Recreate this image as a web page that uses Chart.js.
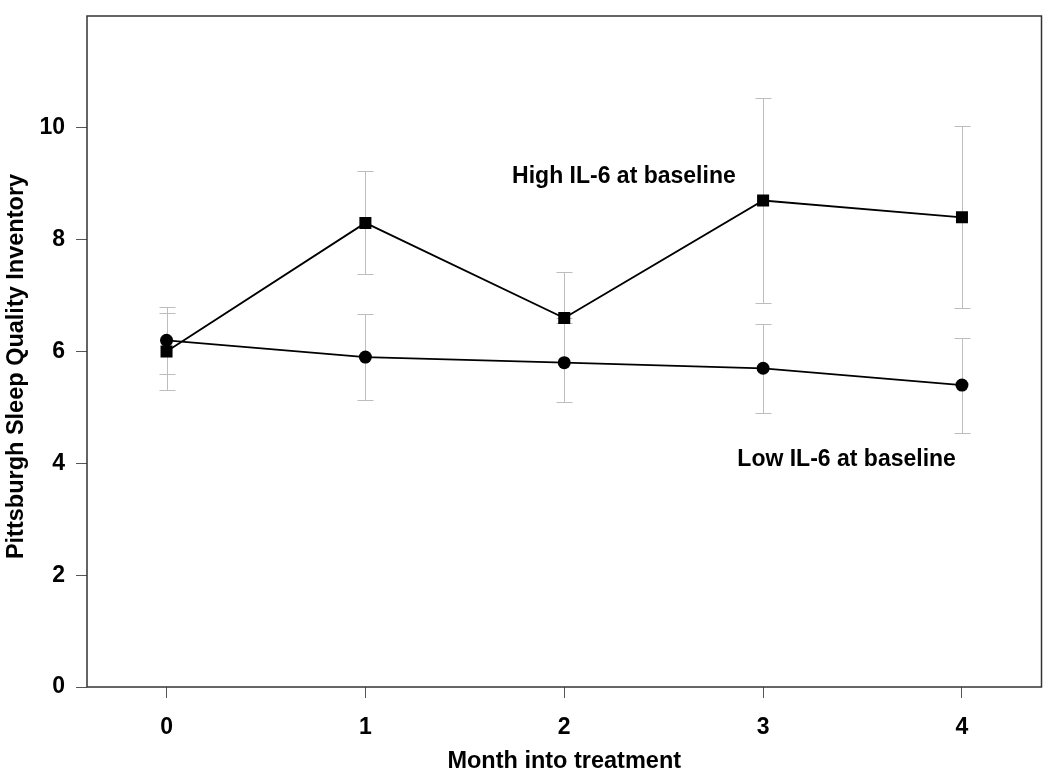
<!DOCTYPE html>
<html>
<head>
<meta charset="utf-8">
<script src="https://cdn.jsdelivr.net/npm/chart.js@4.4.1/dist/chart.umd.min.js"></script>
<style>
  html, body { margin: 0; padding: 0; background: #fff; }
  #wrap { width: 1050px; height: 777px; }
</style>
</head>
<body>
<div id="wrap"><canvas id="chart" width="1050" height="777"></canvas></div>
<script>
// data
const months = [0, 1, 2, 3, 4];
const highMean = [6.0, 8.3, 6.6, 8.7, 8.4];
const highErrUp = [0.68, 0.92, 0.82, 1.83, 1.63];
const highErrDown = [0.69, 0.92, 0, 1.84, 1.63];
const lowMean = [6.2, 5.9, 5.8, 5.7, 5.4];
const lowErr = [0.6, 0.77, 0.71, 0.8, 0.85];
const yTicks = [0, 2, 4, 6, 8, 10];

// text labels placed in data units
const notes = [
    { text: 'High IL-6 at baseline', x: 2.30, y: 9.12 },
    { text: 'Low IL-6 at baseline', x: 3.42, y: 4.06 }
];
const yTitle = 'Pittsburgh Sleep Quality Inventory';

const FONT = "'Liberation Sans', Arial, sans-serif";

// error bars, frame and text labels
const extras = {
    id: 'extras',
    beforeDatasetsDraw(chart) {
        const ctx = chart.ctx;
        const xs = chart.scales.x, ys = chart.scales.y;
        const bars = [];
        months.forEach((m, i) => {
            bars.push([m, highMean[i] + highErrUp[i], highMean[i] - highErrDown[i]]);
            bars.push([m, lowMean[i] + lowErr[i], lowMean[i] - lowErr[i]]);
        });
        ctx.save();
        ctx.strokeStyle = '#bdbdbd';
        ctx.lineWidth = 1;
        bars.forEach(([m, hi, lo]) => {
            const px = Math.round(xs.getPixelForValue(m)) + 0.5;
            const y1 = Math.round(ys.getPixelForValue(hi)) + 0.5;
            const y2 = Math.round(ys.getPixelForValue(lo)) + 0.5;
            ctx.beginPath();
            ctx.moveTo(px, y1); ctx.lineTo(px, y2);
            ctx.moveTo(px - 8, y1); ctx.lineTo(px + 8, y1);
            ctx.moveTo(px - 8, y2); ctx.lineTo(px + 8, y2);
            ctx.stroke();
        });
        ctx.restore();
    },
    afterDraw(chart) {
        const ctx = chart.ctx;
        const a = chart.chartArea;
        const xs = chart.scales.x, ys = chart.scales.y;
        ctx.save();
        ctx.strokeStyle = '#333';
        ctx.lineWidth = 1.5;
        ctx.strokeRect(a.left, a.top, a.right - a.left, a.bottom - a.top);
        ctx.fillStyle = '#000';
        ctx.font = 'bold 23px ' + FONT;
        ctx.textAlign = 'center';
        ctx.textBaseline = 'middle';
        notes.forEach(n => {
            ctx.fillText(n.text, xs.getPixelForValue(n.x), ys.getPixelForValue(n.y));
        });
        // y axis title, sits a little below the middle of the plot
        ctx.font = 'bold 23.5px ' + FONT;
        ctx.translate(17, (a.top + a.bottom) / 2 + 15);
        ctx.rotate(-Math.PI / 2);
        ctx.fillText(yTitle, 0, 0);
        ctx.restore();
    }
};

new Chart(document.getElementById('chart'), {
    type: 'line',
    data: {
        datasets: [
            {
                label: 'High IL-6 at baseline',
                data: months.map((m, i) => ({ x: m, y: highMean[i] })),
                borderColor: '#000',
                backgroundColor: '#000',
                borderWidth: 1.8,
                pointStyle: 'rect',
                pointRadius: 8.5,
                pointBorderWidth: 0,
                tension: 0
            },
            {
                label: 'Low IL-6 at baseline',
                data: months.map((m, i) => ({ x: m, y: lowMean[i] })),
                borderColor: '#000',
                backgroundColor: '#000',
                borderWidth: 1.8,
                pointStyle: 'circle',
                pointRadius: 6.5,
                pointBorderWidth: 0,
                tension: 0
            }
        ]
    },
    options: {
        responsive: false,
        animation: false,
        layout: { padding: { top: 16, right: 5, left: 0, bottom: 0 } },
        plugins: {
            legend: { display: false },
            tooltip: { enabled: false }
        },
        scales: {
            x: {
                type: 'linear',
                min: -0.4,
                max: 4.4,
                afterBuildTicks: axis => { axis.ticks = months.map(v => ({ value: v })); },
                afterFit: axis => {
                    axis.height = 90;
                    axis.paddingLeft = 0;
                    axis.paddingRight = 0;
                },
                border: { display: false },
                grid: { drawOnChartArea: false, drawTicks: true, tickLength: 11, color: '#555' },
                ticks: {
                    color: '#000',
                    padding: 16,
                    font: { family: FONT, size: 23, weight: 'bold' }
                },
                title: {
                    display: true,
                    text: 'Month into treatment',
                    color: '#000',
                    padding: { top: 0, bottom: 1 },
                    font: { family: FONT, size: 23.5, weight: 'bold' }
                }
            },
            y: {
                min: 0,
                max: 12,
                afterBuildTicks: axis => { axis.ticks = yTicks.map(v => ({ value: v })); },
                afterFit: axis => {
                    axis.width = 87;
                    axis.paddingTop = 0;
                    axis.paddingBottom = 0;
                },
                border: { display: false },
                grid: { drawOnChartArea: false, drawTicks: true, tickLength: 11, color: '#555' },
                ticks: {
                    color: '#000',
                    padding: 11,
                    font: { family: FONT, size: 23, weight: 'bold' }
                }
            }
        }
    },
    plugins: [extras]
});
</script>
</body>
</html>
